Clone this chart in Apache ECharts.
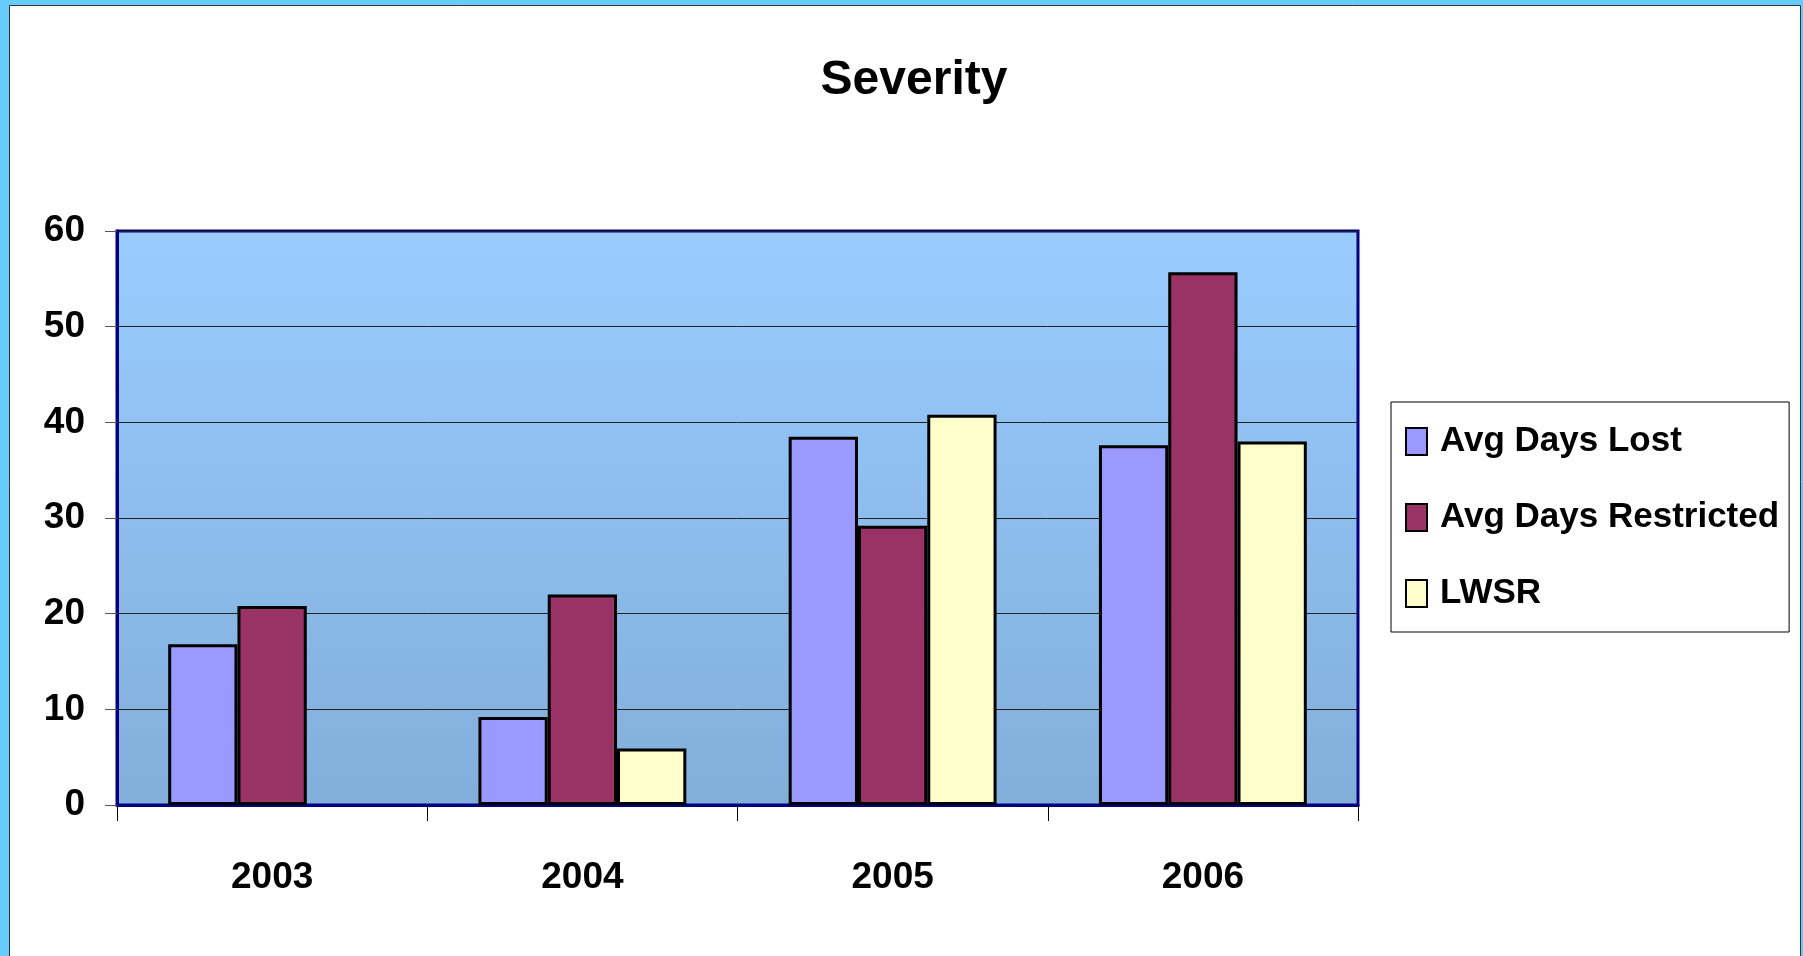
<!DOCTYPE html>
<html>
<head>
<meta charset="utf-8">
<script src="https://cdn.jsdelivr.net/npm/echarts@6/dist/echarts.min.js"></script>
<style>
html,body{margin:0;padding:0;background:#fff;}
#chart{width:1803px;height:956px;}
</style>
</head>
<body>
<div id="chart"></div>
<script>
const categories = ['2003', '2004', '2005', '2006'];
const avgDaysLost = [16.8, 9.2, 38.5, 37.6];
const avgDaysRestricted = [20.8, 22.0, 29.2, 55.7];
const lwsr = [null, 5.9, 40.8, 38.0];
const seriesNames = ['Avg Days Lost', 'Avg Days Restricted', 'LWSR'];
const seriesColors = ['#9999FF', '#993366', '#FFFFCC'];

const FONT = "'Liberation Sans', Arial, sans-serif";
const chart = echarts.init(document.getElementById('chart'), null, {renderer: 'canvas'});

const dataSets = [avgDaysLost, avgDaysRestricted, lwsr];
const option = {
  animation: false,
  backgroundColor: '#66CCFF',
  graphic: [
    {type: 'rect', z: -10, shape: {x: 9.5, y: 5.5, width: 1791, height: 960},
     style: {fill: '#FFFFFF', stroke: '#333333', lineWidth: 1}}
  ],
  title: {
    text: 'Severity',
    left: 909, top: 52, textAlign: 'center',
    textStyle: {fontFamily: FONT, fontWeight: 'bold', fontSize: 48, color: '#000'}
  },
  grid: {
    left: 117, right: 445, top: 231, bottom: 151,
    show: true,
    borderColor: '#000080', borderWidth: 3,
    backgroundColor: new echarts.graphic.LinearGradient(0, 0, 0, 1, [
      {offset: 0, color: '#99CCFF'}, {offset: 1, color: '#82AEDA'}
    ])
  },
  legend: {
    orient: 'vertical',
    left: 1391, top: 402,
    padding: [22, 10, 21, 14],
    itemGap: 41,
    itemWidth: 21, itemHeight: 27,
    backgroundColor: '#FFFFFF',
    borderColor: '#000000', borderWidth: 1,
    icon: 'rect',
    itemStyle: {borderColor: '#000', borderWidth: 2},
    textStyle: {fontFamily: FONT, fontWeight: 'bold', fontSize: 35, color: '#000', lineHeight: 35, padding: [0, 0, 0, 8]},
    data: seriesNames
  },
  xAxis: {
    type: 'category',
    data: categories,
    axisLine: {lineStyle: {color: '#000080', width: 3}},
    axisTick: {show: true, length: 16, lineStyle: {color: '#000', width: 1}},
    axisLabel: {margin: 54, fontFamily: FONT, fontWeight: 'bold', fontSize: 37, color: '#000'},
    splitLine: {show: false}
  },
  yAxis: {
    type: 'value', min: 0, max: 60, interval: 10,
    axisLine: {show: true, lineStyle: {color: '#000080', width: 3}},
    axisTick: {show: true, length: 12, lineStyle: {color: '#555', width: 1}},
    axisLabel: {margin: 32, fontFamily: FONT, fontWeight: 'bold', fontSize: 37, color: '#000'},
    splitLine: {show: true, lineStyle: {color: '#222', width: 1}}
  },
  series: seriesNames.map((name, i) => ({
    name: name,
    type: 'bar',
    data: dataSets[i],
    barGap: '0%',
    barCategoryGap: '33%',
    itemStyle: {color: seriesColors[i], borderColor: '#000', borderWidth: 3}
  }))
};
chart.setOption(option);
</script>
</body>
</html>
